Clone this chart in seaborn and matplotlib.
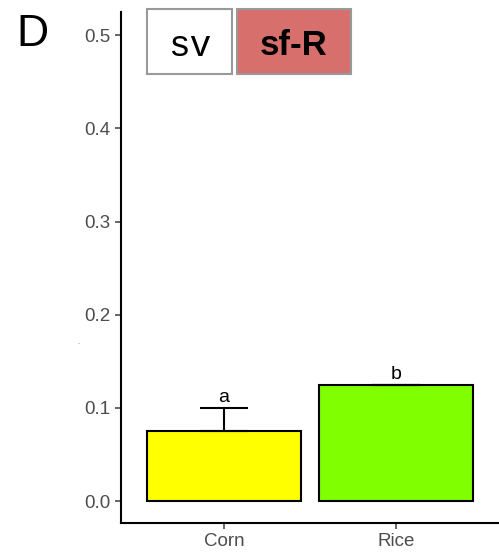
import matplotlib
matplotlib.use("Agg")
import matplotlib.pyplot as plt
import seaborn as sns
from matplotlib.patches import Rectangle

crops = ["Corn", "Rice"]
means = [0.075, 0.125]
errors = [0.025, 0.0]
letters = ["a", "b"]
bar_colors = ["#FFFF00", "#7FFF00"]
y_ticks = [0.0, 0.1, 0.2, 0.3, 0.4, 0.5]

sns.set_theme(style="ticks")
plt.rcParams["font.family"] = ["Liberation Sans", "DejaVu Sans"]

fig = plt.figure(figsize=(4.99, 5.54), dpi=100)
ax = fig.add_axes([121 / 499, 31 / 554, 1 - 121 / 499, (523 - 12) / 554])

sns.barplot(x=crops, y=means, hue=crops, palette=bar_colors, width=0.9, saturation=1,
            edgecolor="black", linewidth=1.5, legend=False, ax=ax)
ax.errorbar(range(len(crops)), means, yerr=[[0] * len(errors), errors],
            fmt="none", ecolor="black", elinewidth=1.5, capsize=17, capthick=1.5)

for i, (m, e, lab) in enumerate(zip(means, errors, letters)):
    ax.text(i, m + e + 0.002, lab, ha="center", va="bottom", fontsize=14, color="black")

ax.set_xlim(-0.6, 1.6)
ax.set_ylim(-0.0235, 0.525)
ax.set_yticks(y_ticks)
ax.set_yticklabels([f"{t:.1f}" for t in y_ticks])
ax.tick_params(axis="both", colors="#4D4D4D", labelsize=13.5, length=4.5, width=1.2, pad=3)
for side in ["top", "right"]:
    ax.spines[side].set_visible(False)
for side in ["left", "bottom"]:
    ax.spines[side].set_linewidth(1.5)
    ax.spines[side].set_color("black")
ax.set_xlabel("")
ax.set_ylabel("")

# tiny stray y label mark
fig.text(78 / 499, 1 - 343 / 554, ".", fontsize=5, color="#4D4D4D", ha="center", va="center")

fig.text(16 / 499, 1 - 35 / 554, "D", fontsize=32, va="center", ha="left", color="black")

# strain boxes
for x0, x1, base, txt, fc, kw in [
        (147, 232, 56, "sv", "white", dict(family="Liberation Mono", fontsize=26)),
        (237, 351, 55, "sf-R", "#D7706C", dict(fontsize=25, fontweight="bold"))]:
    fig.patches.append(Rectangle((x0 / 499, 1 - 74 / 554), (x1 - x0) / 499, 65 / 554,
                                 transform=fig.transFigure, facecolor=fc,
                                 edgecolor="#999999", linewidth=1.5))
    fig.text((x0 + x1) / 2 / 499, 1 - base / 554, txt, ha="center", va="baseline",
             color="black", **kw)

fig.savefig("out.png", dpi=100)
